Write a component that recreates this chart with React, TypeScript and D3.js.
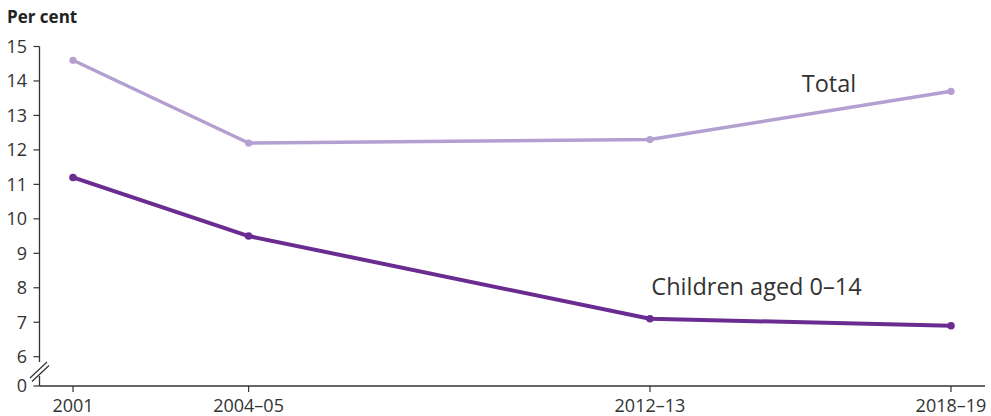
import React from "react";
import * as d3 from "d3";

const periods = ["2001", "2004–05", "2012–13", "2018–19"];
const periodYears = [2001, 2004.5, 2012.5, 2018.5];
const totalValues = [14.6, 12.2, 12.3, 13.7];
const childrenValues = [11.2, 9.5, 7.1, 6.9];
const yTicks = [6, 7, 8, 9, 10, 11, 12, 13, 14, 15];
const seriesLabels = ["Total", "Children aged 0–14"];

const W = 991;
const H = 416;
const FONT = "'Open Sans', 'Noto Sans', sans-serif";

export default function App() {
  const x = d3.scaleLinear().domain([2001, 2018.5]).range([73, 951]);
  const y = d3.scaleLinear().domain([6, 15]).range([356.7, 46.5]);
  const axisX = 39.5;
  const baseY = 386;
  const line = d3
    .line<number>()
    .x((_, i) => x(periodYears[i]))
    .y((d) => y(d));

  const series = [
    { values: totalValues, color: "#b39fd0", width: 3.5, r: 3.6 },
    { values: childrenValues, color: "#6a2c91", width: 4, r: 3.8 },
  ];

  return (
    <svg
      width={W}
      height={H}
      style={{ position: "absolute", left: 0, top: 0 }}
      fontFamily={FONT}
    >
      <rect width={W} height={H} fill="#fff" />
      <text x={7} y={23} fontSize={17} fontWeight={700} fill="#222">
        Per cent
      </text>
      {/* y axis */}
      <line x1={axisX} x2={axisX} y1={y(15)} y2={362} stroke="#333" strokeWidth={1.3} />
      <line x1={axisX} x2={axisX} y1={376} y2={baseY} stroke="#333" strokeWidth={1.3} />
      {/* break marks */}
      <line x1={30} y1={378} x2={47} y2={362} stroke="#333" strokeWidth={1.2} />
      <line x1={32} y1={381.5} x2={49} y2={365.5} stroke="#333" strokeWidth={1.2} />
      {yTicks.map((t) => (
        <g key={t}>
          <line x1={axisX - 6} x2={axisX} y1={y(t)} y2={y(t)} stroke="#333" strokeWidth={1.2} />
          <text x={27} y={y(t)} dy="0.35em" textAnchor="end" fontSize={18} fill="#333">
            {t}
          </text>
        </g>
      ))}
      <line x1={axisX - 6} x2={axisX} y1={baseY} y2={baseY} stroke="#333" strokeWidth={1.2} />
      <text x={27} y={baseY} dy="0.35em" textAnchor="end" fontSize={18} fill="#333">
        0
      </text>
      {/* x axis */}
      <line x1={axisX} x2={985} y1={baseY} y2={baseY} stroke="#333" strokeWidth={1.3} />
      {periods.map((p, i) => (
        <g key={p}>
          <line
            x1={x(periodYears[i])}
            x2={x(periodYears[i])}
            y1={baseY}
            y2={baseY + 6}
            stroke="#333"
            strokeWidth={1.2}
          />
          <text x={x(periodYears[i])} y={412} textAnchor="middle" fontSize={18} fill="#333">
            {p}
          </text>
        </g>
      ))}
      {series.map((s, si) => (
        <g key={si}>
          <path d={line(s.values) || ""} fill="none" stroke={s.color} strokeWidth={s.width} strokeLinejoin="round" />
          {s.values.map((v, i) => (
            <circle key={i} cx={x(periodYears[i])} cy={y(v)} r={s.r} fill={s.color} />
          ))}
        </g>
      ))}
      <text x={829} y={92} textAnchor="middle" fontSize={23.5} fill="#333">
        {seriesLabels[0]}
      </text>
      <text x={756.5} y={295} textAnchor="middle" fontSize={23.5} fill="#333">
        {seriesLabels[1]}
      </text>
    </svg>
  );
}
